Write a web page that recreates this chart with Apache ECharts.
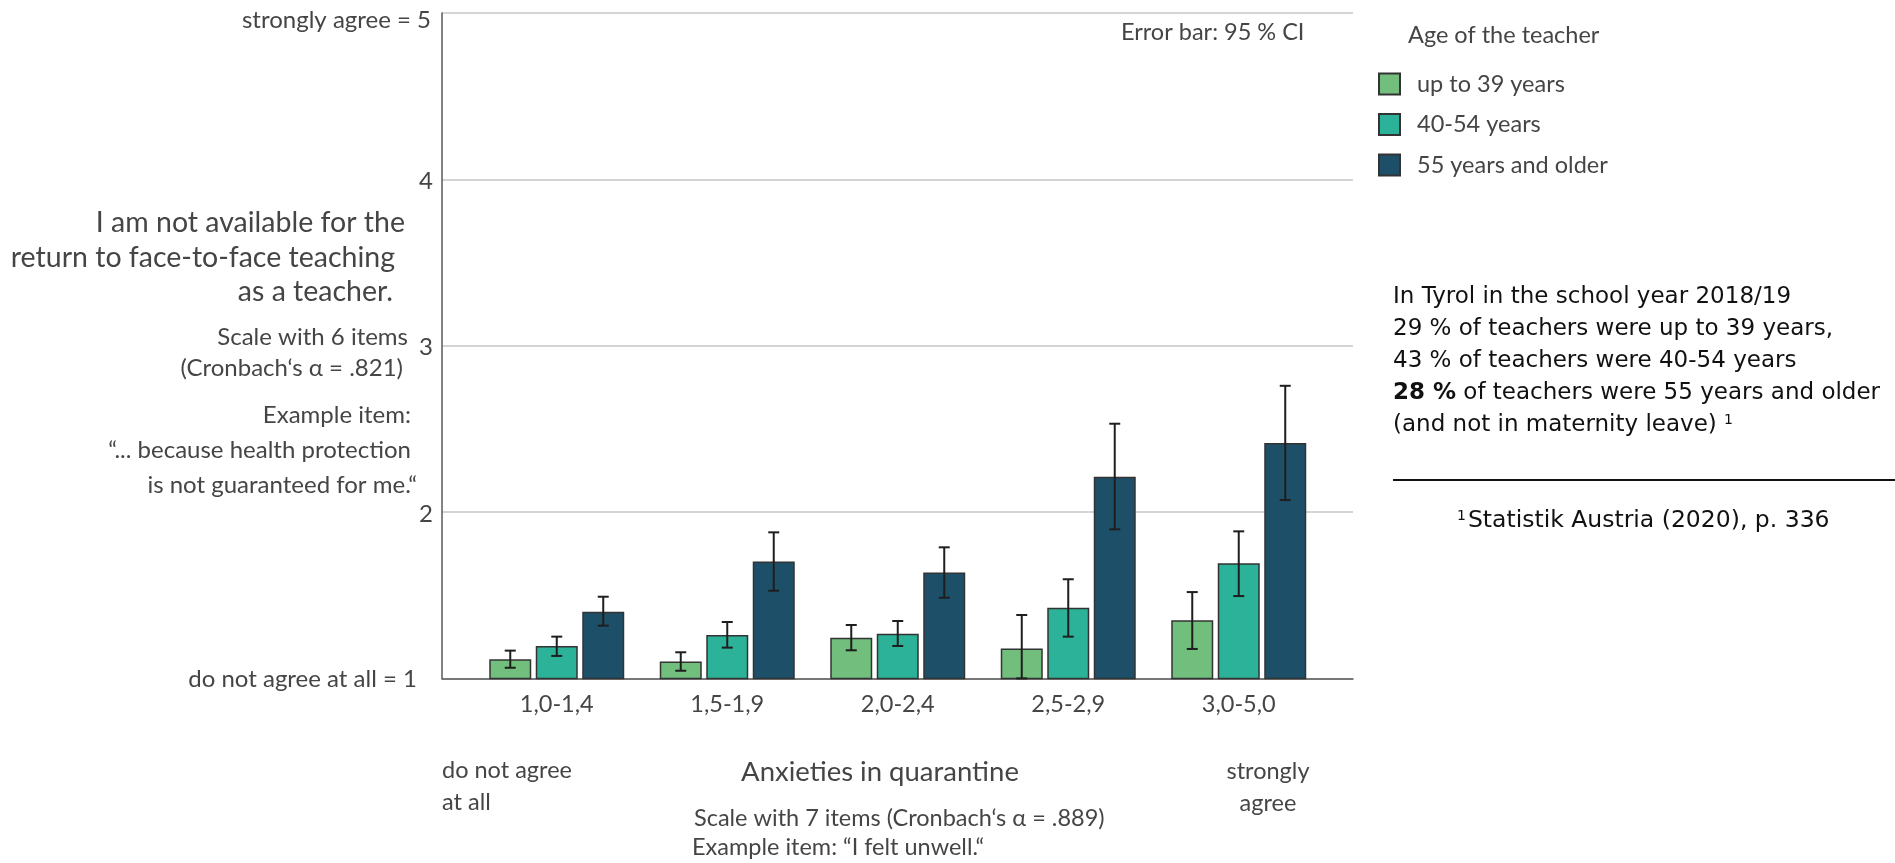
<!DOCTYPE html>
<html>
<head>
<meta charset="utf-8">
<script src="https://cdn.jsdelivr.net/npm/echarts@6/dist/echarts.min.js"></script>
<style>
html,body{margin:0;padding:0;background:#fff;}
#chart{width:1895px;height:863px;}
</style>
</head>
<body>
<div id="chart"></div>
<script>
// ---------- data ----------
const categories = ['1,0-1,4', '1,5-1,9', '2,0-2,4', '2,5-2,9', '3,0-5,0'];
const seriesNames = ['up to 39 years', '40-54 years', '55 years and older'];
const meanYoung = [1.115, 1.101, 1.245, 1.179, 1.349];
const meanMiddle = [1.195, 1.261, 1.269, 1.425, 1.692];
const meanOld = [1.401, 1.702, 1.637, 2.212, 2.415];
const ciLowYoung = [1.064, 1.046, 1.169, 1.0, 1.177];
const ciHighYoung = [1.167, 1.157, 1.321, 1.381, 1.519];
const ciLowMiddle = [1.135, 1.185, 1.195, 1.251, 1.495];
const ciHighMiddle = [1.251, 1.339, 1.345, 1.596, 1.884];
const ciLowOld = [1.317, 1.527, 1.485, 1.896, 2.072];
const ciHighOld = [1.491, 1.878, 1.788, 2.531, 2.759];
const yTickLabels = ['do not agree at all = 1', '2', '3', '4', 'strongly agree = 5'];

// ---------- styles ----------
const colors = ['#71BE7D', '#2CB298', '#1D5068'];
const FONT = 'Lato';
const FW = 'normal';
const TXT = '#454545';
const BAR_W = 42;
const BAR_GAP = 0.107;

const means = [meanYoung, meanMiddle, meanOld];
const lows = [ciLowYoung, ciLowMiddle, ciLowOld];
const highs = [ciHighYoung, ciHighMiddle, ciHighOld];

const chart = echarts.init(document.getElementById('chart'), null, {renderer: 'canvas'});

const barSeries = seriesNames.map((name, s) => ({
  name: name,
  type: 'bar',
  xAxisIndex: 1,
  yAxisIndex: 1,
  barWidth: BAR_W,
  barGap: (BAR_GAP * 100) + '%',
  data: means[s],
  itemStyle: {color: colors[s], borderColor: '#333', borderWidth: 1.5},
  emphasis: {disabled: true},
  z: 2
}));

const errSeries = seriesNames.map((name, s) => ({
  name: 'CI ' + name,
  type: 'custom',
  xAxisIndex: 1,
  yAxisIndex: 1,
  data: categories.map((c, i) => [i, lows[s][i], highs[s][i]]),
  encode: {x: 0, y: [1, 2]},
  z: 5,
  renderItem: function (params, api) {
    const i = api.value(0);
    const pLo = api.coord([i, api.value(1)]);
    const pHi = api.coord([i, api.value(2)]);
    const off = (s - 1) * (BAR_W * (1 + BAR_GAP));
    const x = pLo[0] + off;
    const cap = 5.5;
    const st = {stroke: '#1e1e1e', lineWidth: 2};
    return {
      type: 'group',
      children: [
        {type: 'line', shape: {x1: x, y1: pLo[1], x2: x, y2: pHi[1]}, style: st},
        {type: 'line', shape: {x1: x - cap, y1: pLo[1], x2: x + cap, y2: pLo[1]}, style: st},
        {type: 'line', shape: {x1: x - cap, y1: pHi[1], x2: x + cap, y2: pHi[1]}, style: st}
      ]
    };
  }
}));

function txt(text, x, y, size, align, opts) {
  opts = opts || {};
  return {
    type: 'text',
    silent: true,
    style: Object.assign({
      text: text, x: x, y: y,
      textAlign: align, textVerticalAlign: 'middle',
      fontFamily: opts.family || FONT, fontSize: size,
      fontWeight: opts.weight || FW,
      fill: opts.color || TXT
    }, opts.extra || {})
  };
}

const DJ = {family: 'DejaVu Sans', color: '#111', weight: 'normal'};

const graphics = [
  txt('I am not available for the', 405, 223, 28.5, 'right'),
  txt('return to face-to-face teaching', 395, 258, 28.5, 'right'),
  txt('as a teacher.', 393, 292, 28.5, 'right'),
  txt('Scale with 6 items', 408, 337, 24, 'right'),
  txt('(Cronbach‘s α = .821)', 403, 368, 24, 'right'),
  txt('Example item:', 411, 415, 24, 'right'),
  txt('“... because health protection', 411, 450, 24, 'right'),
  txt('is not guaranteed for me.“', 417, 485, 24, 'right'),
  txt('do not agree', 442, 770, 23.5, 'left'),
  txt('at all', 442, 802, 23.5, 'left'),
  txt('Anxieties in quarantine', 880, 772, 27.5, 'center'),
  txt('Scale with 7 items (Cronbach‘s α = .889)', 694, 818, 23.5, 'left'),
  txt('Example item: “I felt unwell.“', 692, 847, 23.5, 'left'),
  txt('strongly', 1268, 771, 23.5, 'center'),
  txt('agree', 1268, 803, 23.5, 'center'),
  txt('Error bar: 95 % CI', 1121, 32, 23.5, 'left'),
  txt('Age of the teacher', 1408, 35, 23.5, 'left'),
  txt('In Tyrol in the school year 2018/19', 1393, 297, 23, 'left', DJ),
  txt('29 % of teachers were up to 39 years,', 1393, 329, 23, 'left', DJ),
  txt('43 % of teachers were 40-54 years', 1393, 361, 23, 'left', DJ),
  {
    type: 'text', silent: true,
    style: {
      text: '{b|28 %} of teachers were 55 years and older',
      x: 1393, y: 393, textAlign: 'left', textVerticalAlign: 'middle',
      fontFamily: 'DejaVu Sans', fontSize: 23, fill: '#111',
      rich: {b: {fontFamily: 'DejaVu Sans', fontSize: 23, fontWeight: 'bold', fill: '#111'}}
    }
  },
  {
    type: 'text', silent: true,
    style: {
      text: '(and not in maternity leave) {s|1}',
      x: 1393, y: 425, textAlign: 'left', textVerticalAlign: 'middle',
      fontFamily: 'DejaVu Sans', fontSize: 23, fill: '#111',
      rich: {s: {fontFamily: 'DejaVu Sans', fontSize: 14, fill: '#111', verticalAlign: 'top', padding: [0, 0, 10, 0]}}
    }
  },
  {type: 'line', silent: true, shape: {x1: 1393, y1: 480, x2: 1895, y2: 480}, style: {stroke: '#111', lineWidth: 2}},
  {
    type: 'text', silent: true,
    style: {
      text: '{s|1}Statistik Austria (2020), p. 336',
      x: 1457, y: 521, textAlign: 'left', textVerticalAlign: 'middle',
      fontFamily: 'DejaVu Sans', fontSize: 23.5, fill: '#111',
      rich: {s: {fontFamily: 'DejaVu Sans', fontSize: 14, fill: '#111', verticalAlign: 'top', padding: [0, 2, 10, 0]}}
    }
  }
];

const option = {
  backgroundColor: '#fff',
  animation: false,
  legend: {
    data: seriesNames,
    orient: 'vertical',
    left: 1378,
    top: 72,
    padding: 0,
    itemWidth: 21,
    itemHeight: 21,
    itemGap: 16.5,
    icon: 'rect',
    selectedMode: false,
    textStyle: {fontFamily: FONT, fontWeight: FW, fontSize: 23.5, color: TXT, padding: [0, 0, 0, 12]}
  },
  grid: [
    {left: 442, top: 13, width: 911, height: 665.4, outerBoundsMode: 'none', containLabel: false},
    {left: 471.5, top: 13, width: 852.5, height: 665.4, outerBoundsMode: 'none', containLabel: false}
  ],
  xAxis: [
    {
      type: 'value', gridIndex: 0, min: 0, max: 1,
      axisLine: {show: true, lineStyle: {color: '#5a5a5a', width: 1.5}},
      axisTick: {show: false}, axisLabel: {show: false}, splitLine: {show: false}
    },
    {
      type: 'category', gridIndex: 1, data: categories,
      axisLine: {show: false}, axisTick: {show: false}, splitLine: {show: false},
      axisLabel: {fontFamily: FONT, fontWeight: FW, fontSize: 23.5, color: TXT, margin: 14}
    }
  ],
  yAxis: [
    {
      type: 'value', gridIndex: 0, min: 1, max: 5, interval: 1,
      axisLine: {show: true, lineStyle: {color: '#5a5a5a', width: 1.5}},
      axisTick: {show: false},
      splitLine: {show: true, lineStyle: {color: '#c6c6c6', width: 1.5}},
      axisLabel: {
        margin: 9,
        fontFamily: FONT, fontWeight: FW, fontSize: 24, color: TXT,
        formatter: function (v) {
          const idx = Math.round(v) - 1;
          const t = yTickLabels[idx];
          if (idx === 4) return '{top|' + t + '}';
          if (idx === 0) return '{bot|' + t + '}';
          return '{n|' + t + '}';
        },
        rich: {
          top: {fontFamily: FONT, fontWeight: FW, fontSize: 24, color: TXT, padding: [14, 2, 0, 0]},
          bot: {fontFamily: FONT, fontWeight: FW, fontSize: 24, color: TXT, padding: [2, 16, 0, 0]},
          n: {fontFamily: FONT, fontWeight: FW, fontSize: 24, color: TXT, padding: [4, 0, 0, 0]}
        }
      }
    },
    {
      type: 'value', gridIndex: 1, min: 1, max: 5, interval: 1, show: false,
      splitLine: {show: false}
    }
  ],
  series: barSeries.concat(errSeries),
  graphic: {elements: graphics}
};

chart.setOption(option);
</script>
</body>
</html>
